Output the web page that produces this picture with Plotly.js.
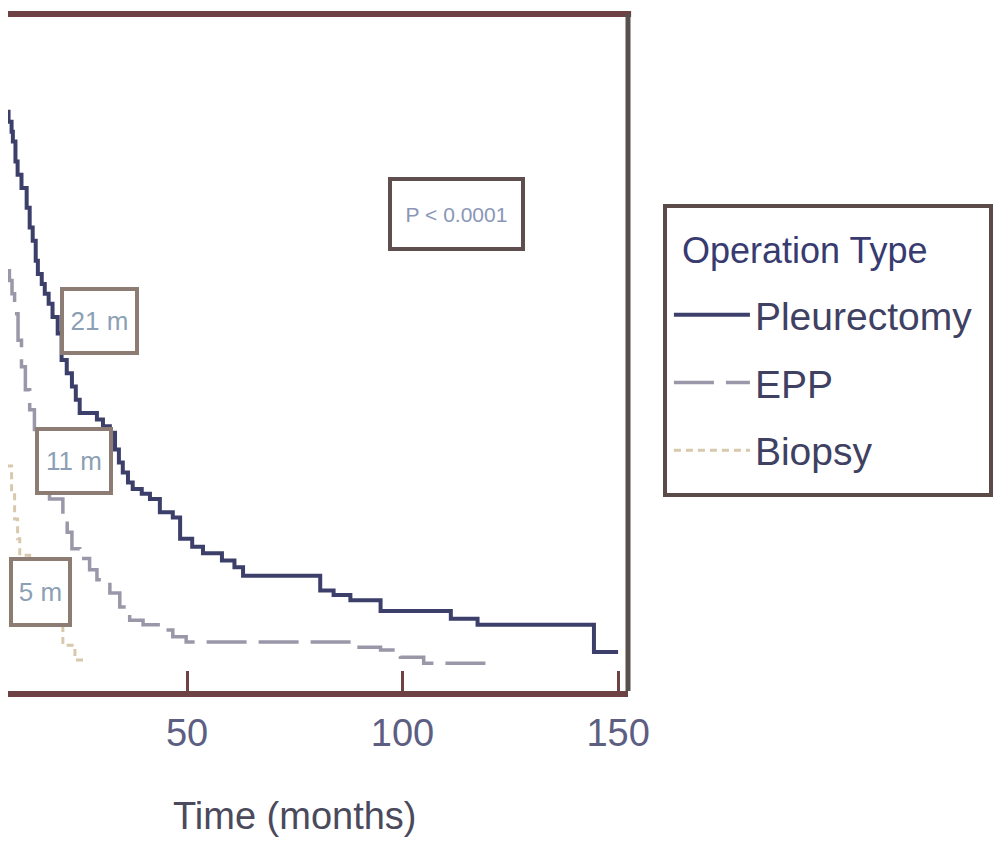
<!DOCTYPE html>
<html>
<head>
<meta charset="utf-8">
<script src="https://cdn.plot.ly/plotly-3.0.1.min.js"></script>
<style>
  html, body { margin: 0; padding: 0; background: #ffffff; }
  #chart { width: 995px; height: 847px; }
</style>
</head>
<body>
<div id="chart"></div>
<script>
// ---- Data (Kaplan-Meier step curves) ----
const groupNames = ["Pleurectomy", "EPP", "Biopsy"];

const pleurTime = [8.0, 8.6, 9.3, 9.6, 10.2, 10.7, 11.6, 12.8, 13.5, 14.2, 14.9, 15.4, 16.3, 17.0, 17.9, 18.8, 20.0, 20.9, 22.1, 23.3, 24.2, 25.1, 29.1, 30.5, 32.1, 33.3, 34.2, 35.1, 36.3, 37.4, 39.5, 41.4, 43.7, 46.7, 48.4, 51.2, 53.7, 58.1, 61.0, 63.0, 80.9, 84.0, 87.9, 94.9, 111.2, 117.4, 144.4, 150.0];
const pleurSurv = [0.875, 0.86, 0.845, 0.83, 0.80, 0.78, 0.76, 0.73, 0.70, 0.68, 0.65, 0.63, 0.615, 0.60, 0.585, 0.565, 0.54, 0.50, 0.48, 0.46, 0.44, 0.42, 0.41, 0.40, 0.39, 0.365, 0.345, 0.33, 0.315, 0.305, 0.298, 0.29, 0.27, 0.262, 0.23, 0.218, 0.208, 0.197, 0.187, 0.174, 0.152, 0.145, 0.137, 0.121, 0.109, 0.100, 0.059, 0.059];

const eppTime = [8.0, 8.8, 9.4, 10.0, 10.8, 11.6, 12.5, 13.5, 14.6, 15.8, 17.0, 18.1, 21.2, 22.2, 23.3, 25.1, 27.4, 29.1, 32.1, 34.4, 36.7, 39.8, 43.3, 46.7, 49.8, 89.5, 94.9, 99.5, 104.9, 119.8];
const eppSurv = [0.635, 0.62, 0.60, 0.57, 0.53, 0.49, 0.455, 0.425, 0.395, 0.36, 0.33, 0.29, 0.265, 0.24, 0.215, 0.20, 0.183, 0.168, 0.148, 0.127, 0.107, 0.10, 0.092, 0.082, 0.074, 0.066, 0.062, 0.051, 0.042, 0.042];

const biopTime = [8.0, 9.3, 10.0, 10.7, 11.2, 13.5, 17.0, 21.2, 24.0, 26.7];
const biopSurv = [0.34, 0.30, 0.26, 0.23, 0.205, 0.17, 0.12, 0.069, 0.047, 0.047];

const xTickVals = [50, 100, 150];
const xTickText = ["50", "100", "150"];
const xTitle = "Time (months)";
const legendTitle = "Operation Type";
const pText = "P < 0.0001";
const medianLabels = ["21 m", "11 m", "5 m"];

// ---- Styling ----
const FONT = "'Liberation Sans', Arial, sans-serif";
const frameColor = "#6e4144";

const traces = [
  { x: pleurTime, y: pleurSurv, name: groupNames[0], legendgroup: "g1", type: "scatter", mode: "lines",
    line: { shape: "hv", color: "#3d3f6b", width: 4 } },
  { x: eppTime, y: eppSurv, name: groupNames[1], legendgroup: "g2", type: "scatter", mode: "lines",
    line: { shape: "hv", color: "#9a98a8", width: 3.5, dash: "40px,12px" } },
  { x: biopTime, y: biopSurv, name: groupNames[2], legendgroup: "g3", type: "scatter", mode: "lines",
    line: { shape: "hv", color: "#d8c8ae", width: 3, dash: "7px,5px" } }
];

const boxFont = { family: FONT, size: 26, color: "#8c9fb5" };
const annotations = [
  { x: 112.6, y: 0.72, xref: "x", yref: "y", text: pText, showarrow: false,
    font: { family: FONT, size: 21, color: "#8a96b8" }, bgcolor: "#ffffff",
    bordercolor: "#5e4e4e", borderwidth: 4, borderpad: 0, width: 129, height: 66 },
  { x: 29.6, y: 0.559, xref: "x", yref: "y", text: medianLabels[0], showarrow: false,
    font: boxFont, bgcolor: "#ffffff", bordercolor: "#8c7c74", borderwidth: 4, borderpad: 0, width: 71, height: 60 },
  { x: 23.7, y: 0.347, xref: "x", yref: "y", text: medianLabels[1], showarrow: false,
    font: boxFont, bgcolor: "#ffffff", bordercolor: "#8c7c74", borderwidth: 4, borderpad: 0, width: 70, height: 60 },
  { x: 16.1, y: 0.150, xref: "x", yref: "y", text: medianLabels[2], showarrow: false,
    font: boxFont, bgcolor: "#ffffff", bordercolor: "#8c7c74", borderwidth: 4, borderpad: 0, width: 55, height: 62 },
  { x: 0.463, y: -0.150, xref: "paper", yref: "paper", yanchor: "top", text: xTitle, showarrow: false,
    font: { family: FONT, size: 38, color: "#4a4a5c" } },
  { x: 1.0839, y: 0.6514, xref: "paper", yref: "paper", xanchor: "left", yanchor: "middle",
    text: legendTitle, showarrow: false, font: { family: FONT, size: 36, color: "#383b70" } }
];

const layout = {
  width: 995, height: 847,
  margin: { l: 8, r: 367, t: 14, b: 156 },
  paper_bgcolor: "#ffffff", plot_bgcolor: "#ffffff",
  showlegend: true,
  xaxis: {
    range: [8.47, 152.3], tickvals: xTickVals, ticktext: xTickText,
    ticks: "inside", ticklen: 20, tickwidth: 3, tickcolor: frameColor,
    showline: true, linecolor: frameColor, linewidth: 6,
    showgrid: false, zeroline: false, ticklabelstandoff: 3,
    tickfont: { family: FONT, size: 38, color: "#5c5e82" }
  },
  yaxis: {
    range: [0, 1.0227], showline: false, showgrid: false, zeroline: false,
    showticklabels: false, ticks: ""
  },
  shapes: [
    { type: "line", xref: "paper", yref: "paper", x0: 0, x1: 1.005, y0: 1, y1: 1,
      line: { color: frameColor, width: 6 } },
    { type: "line", xref: "paper", yref: "paper", x0: 1, x1: 1, y0: 0, y1: 1,
      line: { color: "#58504f", width: 5 } },
    // legend frame
    { type: "rect", xref: "paper", yref: "paper", x0: 1.0597, x1: 1.5855, y0: 0.2895, y1: 0.7164,
      fillcolor: "#ffffff", line: { color: "#5a4a48", width: 4 }, layer: "below" }
  ],
  annotations: annotations,
  legend: {
    x: 1.066, y: 0.455, xanchor: "left", yanchor: "middle",
    bgcolor: "rgba(0,0,0,0)", borderwidth: 0,
    font: { family: FONT, size: 39, color: "#3f4163" },
    itemwidth: 76, traceorder: "grouped", tracegroupgap: 14
  }
};

Plotly.newPlot("chart", traces, layout, { displayModeBar: false, staticPlot: true });
</script>
</body>
</html>
